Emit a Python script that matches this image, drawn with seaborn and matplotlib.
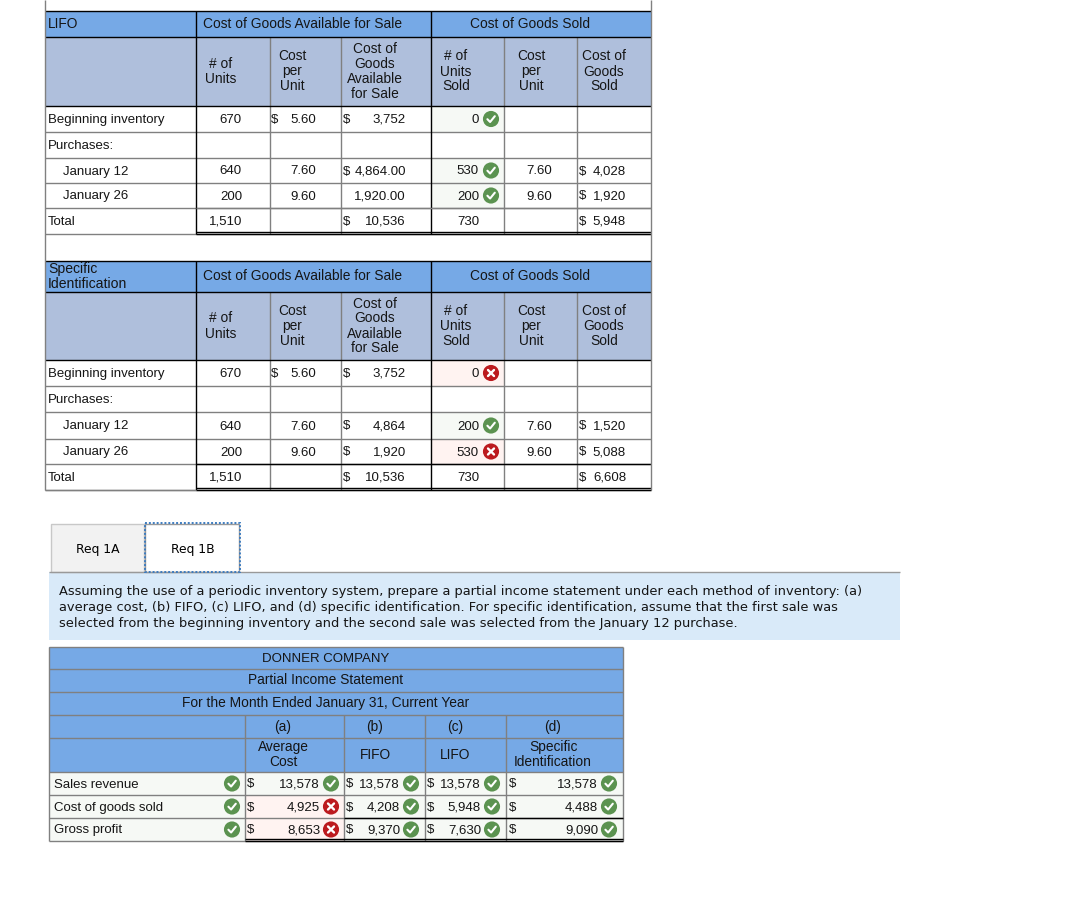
"""
Inventory costing worksheet screenshot: LIFO and specific identification tables,
requirement tabs, and the partial income statement.
"""
import pandas as pd
import matplotlib
matplotlib.use('Agg')
import matplotlib.pyplot as plt
from matplotlib.patches import Rectangle
import seaborn as sns

sns.set_theme(style="white")
plt.rcParams['font.family'] = ['Liberation Sans', 'DejaVu Sans']

BLUE = '#76A9E6'
SUBHEAD = '#AFBFDC'
GRID = '#808080'
INK = '#151515'
GREEN = '#5B9350'
RED = '#BC1A1E'
TINT_OK = '#F6F9F5'
TINT_BAD = '#FFF3F1'
BODY = 9.5
HEAD = 9.9

# ---- Inventory tables ----
ROW_LABELS = ['Beginning inventory', 'Purchases:', 'January 12', 'January 26', 'Total']
UNITS = ['670', '', '640', '200', '1,510']
COST_PER_UNIT = ['5.60', '', '7.60', '9.60', '']
SOLD_COST_PER_UNIT = ['', '', '7.60', '9.60', '']

LIFO_AVAILABLE = [('$', '3,752'), None, ('$', '4,864.00'), ('', '1,920.00'), ('$', '10,536')]
LIFO_SOLD = ['0', '', '530', '200', '730']
LIFO_SOLD_OK = [True, None, True, True, None]
LIFO_COGS = ['', '', '4,028', '1,920', '5,948']

SPEC_AVAILABLE = [('$', '3,752'), None, ('$', '4,864'), ('$', '1,920'), ('$', '10,536')]
SPEC_SOLD = ['0', '', '200', '530', '730']
SPEC_SOLD_OK = [False, None, True, False, None]
SPEC_COGS = ['', '', '1,520', '5,088', '6,608']

HEAD_COLS = [['# of', 'Units'], ['Cost', 'per', 'Unit'], ['Cost of', 'Goods', 'Available', 'for Sale'],
             ['# of', 'Units', 'Sold'], ['Cost', 'per', 'Unit'], ['Cost of', 'Goods', 'Sold']]

# ---- Income statement ----
METHOD_TAGS = ['(a)', '(b)', '(c)', '(d)']
METHOD_NAMES = [['Average', 'Cost'], ['FIFO'], ['LIFO'], ['Specific', 'Identification']]
STATEMENT_LABELS = ['Sales revenue', 'Cost of goods sold', 'Gross profit']
AVERAGE_COST = ['13,578', '4,925', '8,653']
FIFO = ['13,578', '4,208', '9,370']
LIFO = ['13,578', '5,948', '7,630']
SPECIFIC = ['13,578', '4,488', '9,090']
AVERAGE_OK = [True, False, False]
PROMPT = ["Assuming the use of a periodic inventory system, prepare a partial income statement under each method of inventory: (a)",
          "average cost, (b) FIFO, (c) LIFO, and (d) specific identification. For specific identification, assume that the first sale was",
          "selected from the beginning inventory and the second sale was selected from the January 12 purchase."]

fig = plt.figure(figsize=(10.65, 9.02), dpi=100, facecolor='white')
ax = fig.add_axes([0, 0, 1, 1])
ax.set_xlim(0, 1065)
ax.set_ylim(902, 0)
ax.axis('off')

badges = []


def box(x0, y0, x1, y1, color):
    ax.add_patch(Rectangle((x0, y0), x1 - x0, y1 - y0, facecolor=color, edgecolor='none', zorder=1))


def hline(y, x0, x1, color=GRID, lw=1.0):
    ax.plot([x0, x1], [y, y], color=color, lw=lw, zorder=2, solid_capstyle='butt')


def vline(x, y0, y1, color=GRID, lw=1.0):
    ax.plot([x, x], [y0, y1], color=color, lw=lw, zorder=2, solid_capstyle='butt')


def txt(x, y, s, ha='left', fs=BODY, **kw):
    # y is the visual middle of the line, baseline sits 4px under it
    ax.text(x, y + 4, s, ha=ha, va='baseline', fontsize=fs, color=INK, zorder=4, **kw)


def stacked(x, yc, lines, step=15, ha='center', fs=HEAD):
    top = yc - step * (len(lines) - 1) / 2
    for i, line in enumerate(lines):
        txt(x, top + i * step, line, ha=ha, fs=fs)


def inventory_table(ys, title, available, sold, sold_ok, cogs):
    xs = [45, 196, 270, 341, 431, 504, 577, 651]
    box(xs[0], ys[0], xs[-1], ys[1], BLUE)
    box(xs[0], ys[1], xs[-1], ys[2], SUBHEAD)
    for i, ok in enumerate(sold_ok):
        if ok is not None:
            box(xs[4], ys[i + 2], xs[5], ys[i + 3], TINT_OK if ok else TINT_BAD)

    # grid first, darker rules on top
    for y in ys[3:]:
        hline(y, xs[0], xs[-1])
    for x in xs[2:4] + xs[5:7]:
        vline(x, ys[1], ys[-1])
    for y in ys[:3]:
        hline(y, xs[0], xs[-1], color='black')
    for x in [xs[1], xs[4]]:
        vline(x, ys[0], ys[-1], color='black')
    hline(ys[-2], xs[1], xs[-1], color='black' if title != 'LIFO' else GRID)
    hline(ys[-1] - 2, xs[1], xs[-1], color='black')
    hline(ys[-1], xs[1], xs[-1], color='black')

    if isinstance(title, list):
        stacked(48, (ys[0] + ys[1]) / 2, title, ha='left', fs=10.1)
    else:
        txt(48, (ys[0] + ys[1]) / 2, title, fs=HEAD)
    txt(302.5, (ys[0] + ys[1]) / 2, 'Cost of Goods Available for Sale', ha='center', fs=HEAD)
    txt(530.5, (ys[0] + ys[1]) / 2, 'Cost of Goods Sold', ha='center', fs=HEAD)

    centers = [220.5, 292, 375, 456, 531, 604]
    for c, lines in zip(centers, HEAD_COLS):
        stacked(c, (ys[1] + ys[2]) / 2, lines)

    for i, label in enumerate(ROW_LABELS):
        yc = (ys[i + 2] + ys[i + 3]) / 2
        indent = 63 if label.startswith('January') else 48
        txt(indent, yc, label)
        txt(242, yc, UNITS[i], ha='right')
        if COST_PER_UNIT[i]:
            txt(316, yc, COST_PER_UNIT[i], ha='right')
        if i == 0:
            txt(271, yc, '$')
        if available[i]:
            cell = available[i]
            if cell[0]:
                txt(343, yc, cell[0])
            txt(406, yc, cell[1], ha='right')
        txt(479, yc, sold[i], ha='right')
        if sold_ok[i] is not None:
            badges.append((491, yc, sold_ok[i]))
        if SOLD_COST_PER_UNIT[i]:
            txt(552, yc, SOLD_COST_PER_UNIT[i], ha='right')
        if cogs[i]:
            txt(579, yc, '$')
            txt(626, yc, cogs[i], ha='right')


# outer frame of the worksheet block
inventory_table([11, 37, 106, 132, 158, 183, 208, 234], 'LIFO', LIFO_AVAILABLE, LIFO_SOLD, LIFO_SOLD_OK, LIFO_COGS)
inventory_table([261, 292, 360, 386, 412, 439, 464, 490], ['Specific', 'Identification'], SPEC_AVAILABLE, SPEC_SOLD, SPEC_SOLD_OK, SPEC_COGS)
vline(45, 0, 490)
vline(651, 0, 490)
hline(490, 45, 196)

# ---- Tabs and prompt ----
box(51, 524, 144, 572, '#F2F2F2')
ax.add_patch(Rectangle((51, 524), 93, 48, fill=False, edgecolor='#C8C8C8', lw=1, zorder=2))
ax.add_patch(Rectangle((145, 524), 94, 48, fill=False, edgecolor='#999999', lw=1, zorder=2))
ax.add_patch(Rectangle((145, 523), 95, 49, fill=False, edgecolor='#3E7CBF', lw=1.4, ls=(0, (1, 1)), zorder=3))
box(49, 572, 900, 640, '#D9EAF9')
hline(571.5, 49, 900, color='#999999')
ax.text(98, 553, 'Req 1A', ha='center', va='baseline', fontsize=8.9, color='black', family='DejaVu Sans', zorder=4)
ax.text(193, 553, 'Req 1B', ha='center', va='baseline', fontsize=8.9, color='black', family='DejaVu Sans', zorder=4)
for i, line in enumerate(PROMPT):
    ax.text(59, 595.5 + i * 15.7, line, ha='left', va='baseline', fontsize=9.4, color=INK, family='DejaVu Sans', zorder=4)

# ---- Income statement ----
ty = [647, 669, 692, 715, 738, 772, 795, 818, 841]
tx = [49, 245, 344, 425, 506, 623]
box(tx[0], ty[0], tx[-1], ty[5], BLUE)
box(tx[0], ty[5], tx[-1], ty[-1], TINT_OK)
box(tx[1], ty[6], tx[2], ty[8], TINT_BAD)
for y in ty:
    hline(y, tx[0], tx[-1])
for x in [tx[0], tx[-1]]:
    vline(x, ty[0], ty[-1])
for x in tx[1:5]:
    vline(x, ty[3], ty[-1])
hline(ty[7], tx[2], tx[-1], color='black')
hline(ty[-1] - 2, tx[1], tx[-1], color='black')
hline(ty[-1], tx[1], tx[-1], color='black')

txt(326, 657.5, 'DONNER COMPANY', ha='center', fs=9.5)
txt(326, 680.5, 'Partial Income Statement', ha='center', fs=HEAD)
txt(326, 703.5, 'For the Month Ended January 31, Current Year', ha='center', fs=HEAD)
method_centers = [283, 375, 455, 553]
for c, tag, name in zip(method_centers, METHOD_TAGS, METHOD_NAMES):
    txt(c, 726.5, tag, ha='center', fs=HEAD)
    stacked(c, 755, name)

dollar_x = [247, 346, 427, 509]
value_x = [320, 400, 481, 598]
badge_x = [331, 411, 492, 609]
for r, label in enumerate(STATEMENT_LABELS):
    yc = (ty[r + 5] + ty[r + 6]) / 2
    txt(54, yc, label)
    badges.append((232, yc, True))
    for c, col in enumerate([AVERAGE_COST, FIFO, LIFO, SPECIFIC]):
        txt(dollar_x[c], yc, '$')
        txt(value_x[c], yc, col[r], ha='right')
        ok = AVERAGE_OK[r] if c == 0 else True
        badges.append((badge_x[c], yc, ok))

# ---- Check / cross badges ----
marks = pd.DataFrame(badges, columns=['x', 'y', 'ok'])
sns.scatterplot(data=marks, x='x', y='y', hue='ok', palette={True: GREEN, False: RED},
                s=135, linewidth=0, legend=False, ax=ax, zorder=5)
for row in marks.itertuples():
    if row.ok:
        ax.plot([row.x - 3.6, row.x - 0.9, row.x + 3.8], [row.y + 0.2, row.y + 3, row.y - 2.8],
                color='white', lw=1.5, zorder=6)
    else:
        ax.plot([row.x - 3, row.x + 3], [row.y - 3, row.y + 3], color='white', lw=1.7, zorder=6)
        ax.plot([row.x - 3, row.x + 3], [row.y + 3, row.y - 3], color='white', lw=1.7, zorder=6)

ax.set_xlim(0, 1065)
ax.set_ylim(902, 0)
ax.axis('off')
fig.savefig('out.png', dpi=100)
plt.close(fig)
